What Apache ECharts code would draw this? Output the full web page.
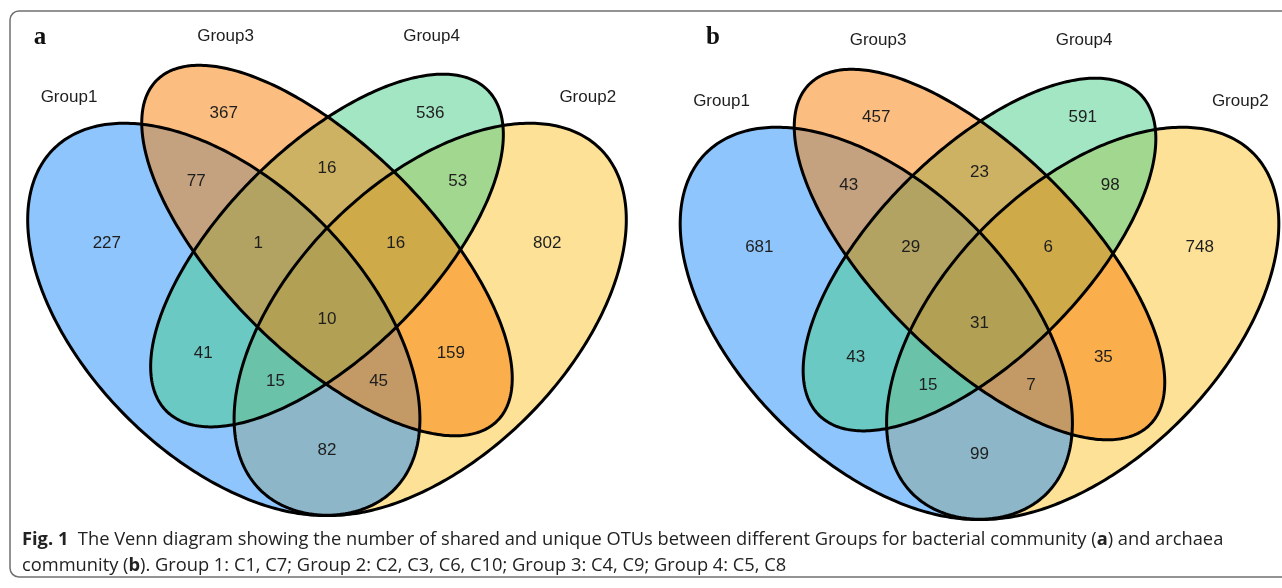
<!DOCTYPE html>
<html lang="en">
<head>
  <meta charset="UTF-8">
  <title>Venn diagram of OTUs</title>
  <script src="https://cdn.jsdelivr.net/npm/echarts@6/dist/echarts.min.js"></script>
</head>
<style>
  html, body { margin: 0; padding: 0; background: #fff; }
  #main { width: 1282px; height: 588px; }
</style>
<body>
  <div id="main"></div>
  <script>
    // set names and region counts (same region order for both panels)
    var sets = ['Group1', 'Group2', 'Group3', 'Group4'];
    // order: G3, G3&G4, G4, G1&G3, G1&G3&G4, all, G2&G3&G4, G2&G4,
    //        G1, G1&G4, G1&G2&G4, G1&G2&G3, G2&G3, G2, G1&G2
    var countsA = [367, 16, 536, 77, 1, 10, 16, 53, 227, 41, 15, 45, 159, 802, 82];
    var countsB = [457, 23, 591, 43, 29, 31, 6, 98, 681, 43, 15, 7, 35, 748, 99];

    // layout in unit coords of the hidden axes
    var regionPos = [
      [0.35, 0.77], [0.5, 0.69], [0.65, 0.77], [0.31, 0.67], [0.40, 0.58],
      [0.5, 0.47], [0.6, 0.58], [0.69, 0.67], [0.18, 0.58], [0.32, 0.42],
      [0.425, 0.38], [0.575, 0.38], [0.68, 0.42], [0.82, 0.58], [0.5, 0.28]
    ];
    var setLabelPos = [[0.125, 0.792], [0.879, 0.792], [0.3525, 0.881], [0.652, 0.881]];
    // cx, cy, a, b, rotation(deg) for Group1..Group4
    var ellipseGeom = [
      [0.35, 0.47, 0.35, 0.20, 135],
      [0.65, 0.47, 0.35, 0.20, 45],
      [0.50, 0.57, 0.35, 0.15, 135],
      [0.50, 0.57, 0.33, 0.15, 45]
    ];
    var drawOrder = [1, 0, 3, 2];
    var fills = ['rgba(30,140,250,0.5)', 'rgba(249,196,45,0.5)', 'rgba(249,125,2,0.5)', 'rgba(71,205,137,0.5)'];

    var myChart = echarts.init(document.getElementById('main'));

    function ellipsePoints(api) {
      var cx = api.value(0), cy = api.value(1), a = api.value(2), b = api.value(3);
      var rot = api.value(4) * Math.PI / 180;
      var pts = [];
      for (var i = 0; i < 360; i++) {
        var t = i / 360 * 2 * Math.PI;
        var ux = cx + a * Math.cos(t) * Math.cos(rot) - b * Math.sin(t) * Math.sin(rot);
        var uy = cy + a * Math.cos(t) * Math.sin(rot) + b * Math.sin(t) * Math.cos(rot);
        pts.push(api.coord([ux, uy]));
      }
      return pts;
    }

    var ellipseData = drawOrder.map(function (s) {
      return ellipseGeom[s].concat([s]);
    });

    var numFont = '17px "Liberation Sans", Arial, sans-serif';

    function panelSeries(idx, counts) {
      return [
        {
          type: 'custom', xAxisIndex: idx, yAxisIndex: idx, clip: false,
          data: ellipseData,
          renderItem: function (params, api) {
            return { type: 'polygon', shape: { points: ellipsePoints(api) },
              style: { fill: fills[api.value(5)], stroke: null } };
          }
        },
        {
          type: 'custom', xAxisIndex: idx, yAxisIndex: idx, clip: false,
          data: ellipseData,
          renderItem: function (params, api) {
            return { type: 'polygon', shape: { points: ellipsePoints(api) },
              style: { fill: null, stroke: '#000', lineWidth: 3 } };
          }
        },
        {
          type: 'custom', xAxisIndex: idx, yAxisIndex: idx, clip: false,
          data: regionPos.map(function (p, i) { return [p[0], p[1], counts[i]]; }),
          renderItem: function (params, api) {
            var pt = api.coord([api.value(0), api.value(1)]);
            return { type: 'text', x: pt[0], y: pt[1],
              style: { text: String(api.value(2)), textAlign: 'center', textVerticalAlign: 'middle',
                fill: '#1e1e1e', font: numFont } };
          }
        },
        {
          type: 'custom', xAxisIndex: idx, yAxisIndex: idx, clip: false,
          data: setLabelPos,
          renderItem: function (params, api) {
            var pt = api.coord([api.value(0), api.value(1)]);
            return { type: 'text', x: pt[0], y: pt[1],
              style: { text: sets[params.dataIndex], textAlign: 'center', textVerticalAlign: 'middle',
                fill: '#1e1e1e', font: numFont } };
          }
        }
      ];
    }

    var axisOff = { type: 'value', min: 0.1, max: 0.9, show: false };
    var capFont = '18.3px "Open Sans", sans-serif';
    var capRich = { b: { fontWeight: 'bold', fontSize: 18.3, fontFamily: 'Open Sans', fill: '#222' } };

    var option = {
      animation: false,
      backgroundColor: '#fff',
      grid: [
        { left: 51.8, top: 23.5, width: 550.4, height: 550.4 },
        { left: 704.3, top: 27.5, width: 550.4, height: 550.4 }
      ],
      xAxis: [
        Object.assign({ gridIndex: 0 }, axisOff),
        Object.assign({ gridIndex: 1 }, axisOff)
      ],
      yAxis: [
        Object.assign({ gridIndex: 0 }, axisOff),
        Object.assign({ gridIndex: 1 }, axisOff)
      ],
      graphic: [
        { type: 'rect', z: -10, shape: { x: 10, y: 11, width: 1300, height: 566, r: 9 },
          style: { fill: null, stroke: '#707070', lineWidth: 1.5 } },
        { type: 'text', x: 40, y: 38,
          style: { text: 'a', textAlign: 'center', textVerticalAlign: 'middle', fill: '#111',
            font: 'bold 25px "Liberation Serif", "Times New Roman", serif' } },
        { type: 'text', x: 713, y: 38,
          style: { text: 'b', textAlign: 'center', textVerticalAlign: 'middle', fill: '#111',
            font: 'bold 25px "Liberation Serif", "Times New Roman", serif' } },
        { type: 'text', x: 22, y: 540,
          style: {
            text: '{b|Fig. 1}  The Venn diagram showing the number of shared and unique OTUs between different Groups for bacterial community ({b|a}) and archaea',
            textVerticalAlign: 'middle', fill: '#222', font: capFont, rich: capRich
          } },
        { type: 'text', x: 22, y: 566,
          style: {
            text: 'community ({b|b}). Group 1: C1, C7; Group 2: C2, C3, C6, C10; Group 3: C4, C9; Group 4: C5, C8',
            textVerticalAlign: 'middle', fill: '#222', font: capFont, rich: capRich
          } }
      ],
      series: panelSeries(0, countsA).concat(panelSeries(1, countsB))
    };

    myChart.setOption(option);
  </script>
</body>
</html>
